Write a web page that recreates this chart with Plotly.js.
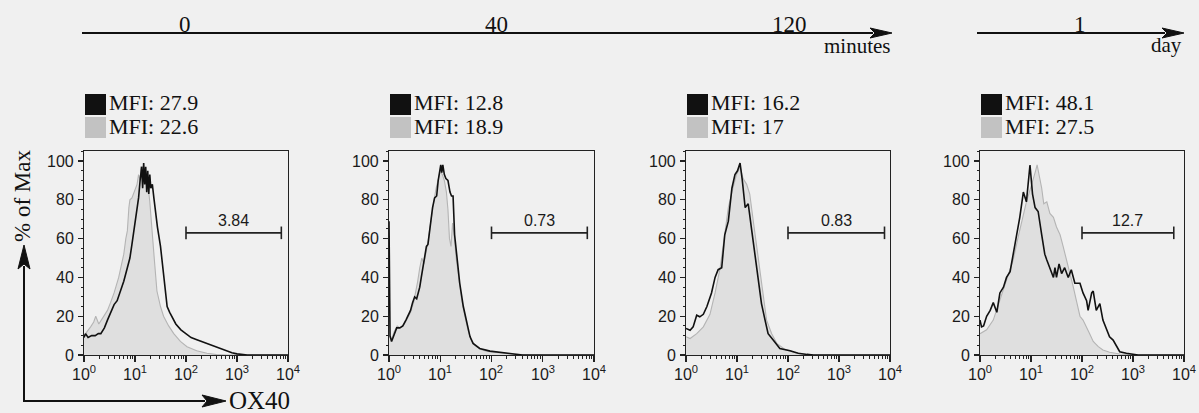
<!DOCTYPE html>
<html>
<head>
<meta charset="utf-8">
<script src="https://cdn.plot.ly/plotly-3.0.1.min.js"></script>
<style>
  html, body { margin: 0; padding: 0; background: #f0f0f0; }
  #chart { width: 1199px; height: 413px; }
</style>
</head>
<body>
<div id="chart"></div>
<script>
// ---------------- DATA ----------------
// time points (timeline labels)
const timeLabels = ["0", "40", "120", "1"];
const timeUnits = ["minutes", "day"];
// MFI values: [black sample, gray control]
const mfiBlack = [27.9, 12.8, 16.2, 48.1];
const mfiGray = [22.6, 18.9, 17, 27.5];
// gate (% positive) per panel
const gateLabels = ["3.84", "0.73", "0.83", "12.7"];
const gateStart = [100, 100, 100, 100];
const gateEnd = [7400, 7400, 7800, 6300];
const gateLevel = [63, 63, 63, 63];
// axis ticks
const xTickVals = [1, 10, 100, 1000, 10000];
const xTickText = ["10<sup>0</sup>", "10<sup>1</sup>", "10<sup>2</sup>", "10<sup>3</sup>", "10<sup>4</sup>"];
const yTickVals = [0, 20, 40, 60, 80, 100];
const yTickText = ["0", "20", "40", "60", "80", "100"];
const yTitle = "% of Max";
const xTitle = "OX40";

// Histogram curves: x = log10(OX40 intensity), y = % of Max
// Panel 1 (0 min)
const p1BlackLogX = [0, 0.03, 0.08, 0.15, 0.22, 0.28, 0.33, 0.4, 0.46, 0.52, 0.56, 0.59, 0.65, 0.72, 0.78, 0.85, 0.9, 0.94, 1.0, 1.04, 1.07, 1.1, 1.13, 1.15, 1.17, 1.19, 1.21, 1.23, 1.25, 1.27, 1.29, 1.31, 1.34, 1.37, 1.4, 1.44, 1.5, 1.53, 1.56, 1.6, 1.63, 1.68, 1.72, 1.8, 1.9, 2.0, 2.1, 2.2, 2.3, 2.4, 2.5, 2.6, 2.7, 2.8, 2.9, 3.0, 3.1, 3.2, 4.0];
const p1BlackY = [9, 11, 9, 10, 10, 11, 11, 14, 18, 22, 24, 26, 28, 33, 38, 45, 50, 57, 69, 75, 81, 90, 97, 86, 99, 88, 97, 84, 95, 83, 93, 86, 88, 81, 73, 66, 56, 48, 40, 31, 25, 22, 20, 16, 13, 11, 9, 8, 7, 6, 5, 4, 3, 2, 1.2, 0.6, 0.3, 0, 0];
const p1GrayLogX = [0, 0.06, 0.13, 0.19, 0.23, 0.29, 0.36, 0.46, 0.52, 0.59, 0.68, 0.74, 0.78, 0.82, 0.85, 0.88, 0.9, 0.94, 1.0, 1.04, 1.07, 1.1, 1.12, 1.17, 1.21, 1.24, 1.29, 1.33, 1.38, 1.43, 1.5, 1.56, 1.66, 1.76, 1.89, 2.02, 2.21, 2.41, 2.6, 2.8, 4.0];
const p1GrayY = [10, 12, 14.5, 17, 20, 16, 19, 23, 27, 32, 40, 47, 52, 60, 64, 76, 80, 81, 85, 88, 93, 90, 97, 97, 93, 91, 79, 64, 49, 33, 25, 20, 15, 11, 7, 4.3, 2.2, 0.9, 0.2, 0, 0];

// Panel 2 (40 min)
const p2BlackLogX = [0, 0.02, 0.05, 0.1, 0.15, 0.21, 0.27, 0.33, 0.37, 0.42, 0.46, 0.5, 0.54, 0.57, 0.6, 0.63, 0.66, 0.7, 0.73, 0.76, 0.8, 0.85, 0.89, 0.93, 0.96, 0.99, 1.01, 1.03, 1.05, 1.08, 1.11, 1.15, 1.19, 1.22, 1.25, 1.28, 1.32, 1.38, 1.45, 1.51, 1.58, 1.64, 1.77, 1.97, 2.16, 2.42, 2.6, 4.0];
const p2BlackY = [69, 10, 7, 11, 14, 14, 15, 18, 20, 23, 27, 30, 29, 32, 35, 40, 45, 50, 56, 57, 66, 76, 81, 82, 90, 96, 98, 94, 98, 93, 91, 90, 84, 82, 82, 62, 52, 37, 25, 18, 9.5, 6, 3.4, 2, 1.4, 0.5, 0, 0];
const p2GrayLogX = [0, 0.05, 0.1, 0.16, 0.22, 0.3, 0.36, 0.42, 0.48, 0.52, 0.56, 0.6, 0.64, 0.68, 0.72, 0.76, 0.8, 0.84, 0.88, 0.92, 0.96, 1.0, 1.04, 1.08, 1.12, 1.15, 1.18, 1.21, 1.24, 1.27, 1.31, 1.36, 1.42, 1.48, 1.54, 1.6, 1.68, 1.78, 1.9, 2.0, 2.2, 2.4, 2.6, 2.8, 4.0];
const p2GrayY = [10, 8, 12, 15, 14, 16, 19, 22, 27, 32, 38, 45, 50, 47, 52, 58, 66, 74, 80, 86, 90, 95, 93, 90, 84, 75, 60, 56, 68, 62, 50, 40, 28, 20, 13, 8, 5, 3, 2, 1.6, 1, 0.5, 0.2, 0, 0];

// Panel 3 (120 min)
const p3BlackLogX = [0, 0.08, 0.14, 0.21, 0.27, 0.34, 0.41, 0.5, 0.57, 0.63, 0.7, 0.76, 0.83, 0.9, 0.96, 1.01, 1.06, 1.1, 1.16, 1.22, 1.29, 1.35, 1.42, 1.48, 1.55, 1.61, 1.71, 1.84, 2.04, 2.2, 2.37, 2.5, 4.0];
const p3BlackY = [13.7, 12.8, 14.5, 20.5, 19.7, 21, 25, 32, 40, 44, 45, 62, 69, 86, 93, 95, 99, 91, 76, 78, 64, 52, 40, 26.5, 18, 11, 7.7, 3.4, 2.2, 0.9, 0.3, 0, 0];
const p3GrayLogX = [0, 0.08, 0.21, 0.34, 0.47, 0.57, 0.67, 0.75, 0.83, 0.92, 0.99, 1.06, 1.12, 1.19, 1.25, 1.32, 1.39, 1.45, 1.52, 1.58, 1.68, 1.78, 1.94, 2.14, 2.37, 2.5, 4.0];
const p3GrayY = [9.4, 8.5, 11, 14.5, 21, 32, 45, 61, 76, 86, 93, 97, 91, 88, 83, 69, 56, 44, 30, 18, 11, 6, 2.9, 1.2, 0.3, 0, 0];

// Panel 4 (1 day)
const p4BlackLogX = [0, 0.03, 0.07, 0.13, 0.2, 0.26, 0.33, 0.39, 0.46, 0.52, 0.59, 0.65, 0.72, 0.78, 0.85, 0.91, 0.98, 1.03, 1.08, 1.14, 1.21, 1.27, 1.31, 1.37, 1.44, 1.47, 1.5, 1.55, 1.6, 1.66, 1.73, 1.79, 1.86, 1.96, 2.02, 2.09, 2.12, 2.19, 2.22, 2.28, 2.35, 2.41, 2.48, 2.54, 2.61, 2.68, 2.74, 2.87, 3.0, 3.1, 4.0];
const p4BlackY = [18, 14.5, 15, 20, 23, 27, 22, 32, 35, 40, 43, 52, 61, 71, 84, 79, 98, 83, 76, 74, 62, 52, 49, 45, 40, 45, 40, 47, 42, 45, 40, 44, 37, 37, 32, 28, 23, 32, 33, 23, 26.5, 18, 13, 9.4, 7.7, 4.3, 1.7, 0.9, 0.3, 0, 0];
const p4GrayLogX = [0, 0.13, 0.26, 0.39, 0.52, 0.65, 0.75, 0.85, 0.91, 0.98, 1.04, 1.09, 1.12, 1.16, 1.21, 1.25, 1.31, 1.37, 1.44, 1.5, 1.57, 1.63, 1.7, 1.76, 1.83, 1.89, 1.96, 2.02, 2.09, 2.15, 2.22, 2.32, 2.41, 2.54, 2.74, 2.94, 3.1, 4.0];
const p4GrayY = [11, 13, 18, 28, 38, 49, 61, 73, 79, 85, 90, 95, 98, 93, 86, 78, 79, 73, 71, 66, 62, 56, 49, 42, 35, 28, 20, 18, 14.5, 11, 7, 4.3, 2.6, 1.4, 0.5, 0.2, 0, 0];

const panels = [
  {bx: p1BlackLogX, by: p1BlackY, gx: p1GrayLogX, gy: p1GrayY},
  {bx: p2BlackLogX, by: p2BlackY, gx: p2GrayLogX, gy: p2GrayY},
  {bx: p3BlackLogX, by: p3BlackY, gx: p3GrayLogX, gy: p3GrayY},
  {bx: p4BlackLogX, by: p4BlackY, gx: p4GrayLogX, gy: p4GrayY}
];

// ---------------- LAYOUT (pixel geometry) ----------------
const W = 1199, H = 413;
const px = v => v / W;
const py = v => 1 - v / H;
const axLeft = [84, 389, 686, 980];
const axRight = [288, 594, 890, 1184];
const axTop = 151, axBottom = 355;
const yMax = 105.2;

const SERIF = "Liberation Serif";
const SANS = "Liberation Sans";

const traces = [];
const layout = {
  width: W, height: H, autosize: false,
  margin: {l: 0, r: 0, t: 0, b: 0, pad: 0},
  paper_bgcolor: '#f0f0f0',
  plot_bgcolor: 'rgba(0,0,0,0)',
  showlegend: false,
  font: {family: SANS, size: 15, color: '#1a1a1a'},
  annotations: [],
  shapes: []
};

// minor tick positions on log axes (2..9 x 10^n)
const minorX = [];
for (let d = 0; d < 4; d++) for (let k = 2; k <= 9; k++) minorX.push(k * Math.pow(10, d));

panels.forEach((p, i) => {
  const xa = i === 0 ? 'x' : 'x' + (i + 1);
  const ya = i === 0 ? 'y' : 'y' + (i + 1);
  const xKey = i === 0 ? 'xaxis' : 'xaxis' + (i + 1);
  const yKey = i === 0 ? 'yaxis' : 'yaxis' + (i + 1);

  traces.push({
    x: p.gx.map(e => Math.pow(10, e)), y: p.gy, xaxis: xa, yaxis: ya,
    type: 'scatter', mode: 'lines', fill: 'tozeroy',
    fillcolor: '#dfdfdf', line: {color: '#b4b4b4', width: 1.1}, hoverinfo: 'skip'
  });
  traces.push({
    x: p.bx.map(e => Math.pow(10, e)), y: p.by, xaxis: xa, yaxis: ya,
    type: 'scatter', mode: 'lines', line: {color: '#111111', width: 1.6}, hoverinfo: 'skip'
  });
  traces.push({
    x: [gateStart[i], gateEnd[i]], y: [gateLevel[i], gateLevel[i]], xaxis: xa, yaxis: ya,
    type: 'scatter', mode: 'lines+markers',
    line: {color: '#222', width: 1.6},
    marker: {symbol: 'line-ns-open', size: 9, color: '#222', line: {color: '#222', width: 1.6}},
    hoverinfo: 'skip'
  });

  layout[xKey] = {
    type: 'log', domain: [px(axLeft[i]), px(axRight[i])], range: [0, 4], anchor: ya,
    tickmode: 'array', tickvals: xTickVals, showticklabels: false,
    ticks: 'outside', ticklen: 6, tickwidth: 1.2, tickcolor: '#222',
    minor: {tickmode: 'array', tickvals: minorX, ticks: 'outside', ticklen: 3, tickwidth: 1, tickcolor: '#222'},
    showline: true, mirror: true, linecolor: '#222', linewidth: 1.2,
    showgrid: false, zeroline: false
  };
  layout[yKey] = {
    domain: [py(axBottom), py(axTop)], range: [0, yMax], anchor: xa,
    tickmode: 'array', tickvals: yTickVals, showticklabels: false,
    ticks: 'outside', ticklen: 5, tickwidth: 1.2, tickcolor: '#222',
    minor: {dtick: 5, ticks: 'outside', ticklen: 2, tickwidth: 1, tickcolor: '#222'},
    showline: true, mirror: true, linecolor: '#222', linewidth: 1.2,
    showgrid: false, zeroline: false
  };

  // tick labels (as annotations bound to the axes)
  xTickVals.forEach((v, k) => {
    layout.annotations.push({xref: xa, yref: 'paper', x: Math.log10(v), y: py(361),
      xanchor: 'center', yanchor: 'top', showarrow: false, text: xTickText[k],
      font: {family: SANS, size: 16, color: '#1a1a1a'}});
  });
  yTickVals.forEach((v, k) => {
    layout.annotations.push({xref: 'paper', yref: ya, x: px(axLeft[i] - 8), y: v,
      xanchor: 'right', yanchor: 'middle', showarrow: false, text: yTickText[k],
      font: {family: SANS, size: 16, color: '#1a1a1a'}});
  });

  // gate label
  layout.annotations.push({
    xref: xa, yref: ya,
    x: (Math.log10(gateStart[i]) + Math.log10(gateEnd[i])) / 2, y: gateLevel[i],
    yshift: 12, text: gateLabels[i], showarrow: false,
    font: {family: SANS, size: 16, color: '#1a1a1a'}
  });

  // legend squares + MFI text
  const sx0 = axLeft[i] + 1, sx1 = sx0 + 21;
  layout.shapes.push({type: 'rect', xref: 'paper', yref: 'paper',
    x0: px(sx0), x1: px(sx1), y0: py(115), y1: py(94), fillcolor: '#111', line: {width: 0}});
  layout.shapes.push({type: 'rect', xref: 'paper', yref: 'paper',
    x0: px(sx0), x1: px(sx1), y0: py(138), y1: py(117), fillcolor: '#c2c2c2', line: {width: 0}});
  layout.annotations.push({xref: 'paper', yref: 'paper', x: px(sx1 + 1), y: py(103),
    xanchor: 'left', yanchor: 'middle', showarrow: false, text: 'MFI: ' + mfiBlack[i],
    font: {family: SERIF, size: 22, color: '#111'}});
  layout.annotations.push({xref: 'paper', yref: 'paper', x: px(sx1 + 1), y: py(126),
    xanchor: 'left', yanchor: 'middle', showarrow: false, text: 'MFI: ' + mfiGray[i],
    font: {family: SERIF, size: 22, color: '#111'}});
});

// arrows (line + filled head) drawn as shapes in paper coords
function arrowH(x0, x1, y, headLen, headHalf) {
  layout.shapes.push({type: 'line', xref: 'paper', yref: 'paper',
    x0: px(x0), x1: px(x1 - headLen + 3), y0: py(y), y1: py(y), line: {color: '#111', width: 2}});
  const path = 'M' + px(x1) + ',' + py(y) +
    ' L' + px(x1 - headLen) + ',' + py(y - headHalf) +
    ' L' + px(x1 - headLen + 5) + ',' + py(y) +
    ' L' + px(x1 - headLen) + ',' + py(y + headHalf) + ' Z';
  layout.shapes.push({type: 'path', xref: 'paper', yref: 'paper', path: path,
    fillcolor: '#111', line: {color: '#111', width: 1}});
}
function arrowV(x, y0, y1, headLen, headHalf) {
  layout.shapes.push({type: 'line', xref: 'paper', yref: 'paper',
    x0: px(x), x1: px(x), y0: py(y0), y1: py(y1 + headLen - 3), line: {color: '#111', width: 2}});
  const path = 'M' + px(x) + ',' + py(y1) +
    ' L' + px(x - headHalf) + ',' + py(y1 + headLen) +
    ' L' + px(x) + ',' + py(y1 + headLen - 5) +
    ' L' + px(x + headHalf) + ',' + py(y1 + headLen) + ' Z';
  layout.shapes.push({type: 'path', xref: 'paper', yref: 'paper', path: path,
    fillcolor: '#111', line: {color: '#111', width: 1}});
}

// timeline arrows
arrowH(82, 892, 33, 22, 5);
arrowH(977, 1184, 33, 22, 5);
// axis arrows
arrowH(23, 226, 401, 24, 6);
arrowV(24, 402, 245, 24, 6);

// timeline labels
const tlX = [185, 496, 789, 1080];
timeLabels.forEach((t, i) => {
  layout.annotations.push({xref: 'paper', yref: 'paper', x: px(tlX[i]), y: py(25),
    xanchor: 'center', yanchor: 'middle', showarrow: false, text: t,
    font: {family: SERIF, size: 23, color: '#111'}});
});
layout.annotations.push({xref: 'paper', yref: 'paper', x: px(893), y: py(46),
  xanchor: 'right', yanchor: 'middle', showarrow: false, text: timeUnits[0],
  font: {family: SERIF, size: 21, color: '#111'}});
layout.annotations.push({xref: 'paper', yref: 'paper', x: px(1184), y: py(45),
  xanchor: 'right', yanchor: 'middle', showarrow: false, text: timeUnits[1],
  font: {family: SERIF, size: 21, color: '#111'}});

// axis titles
layout.annotations.push({xref: 'paper', yref: 'paper', x: px(227), y: py(400),
  xanchor: 'left', yanchor: 'middle', showarrow: false, text: xTitle,
  font: {family: SERIF, size: 25, color: '#111'}});
layout.annotations.push({xref: 'paper', yref: 'paper', x: px(22), y: py(196),
  xanchor: 'center', yanchor: 'middle', showarrow: false, text: yTitle, textangle: -90,
  font: {family: SERIF, size: 23, color: '#111'}});

Plotly.newPlot('chart', traces, layout, {staticPlot: true, displayModeBar: false});
</script>
</body>
</html>
